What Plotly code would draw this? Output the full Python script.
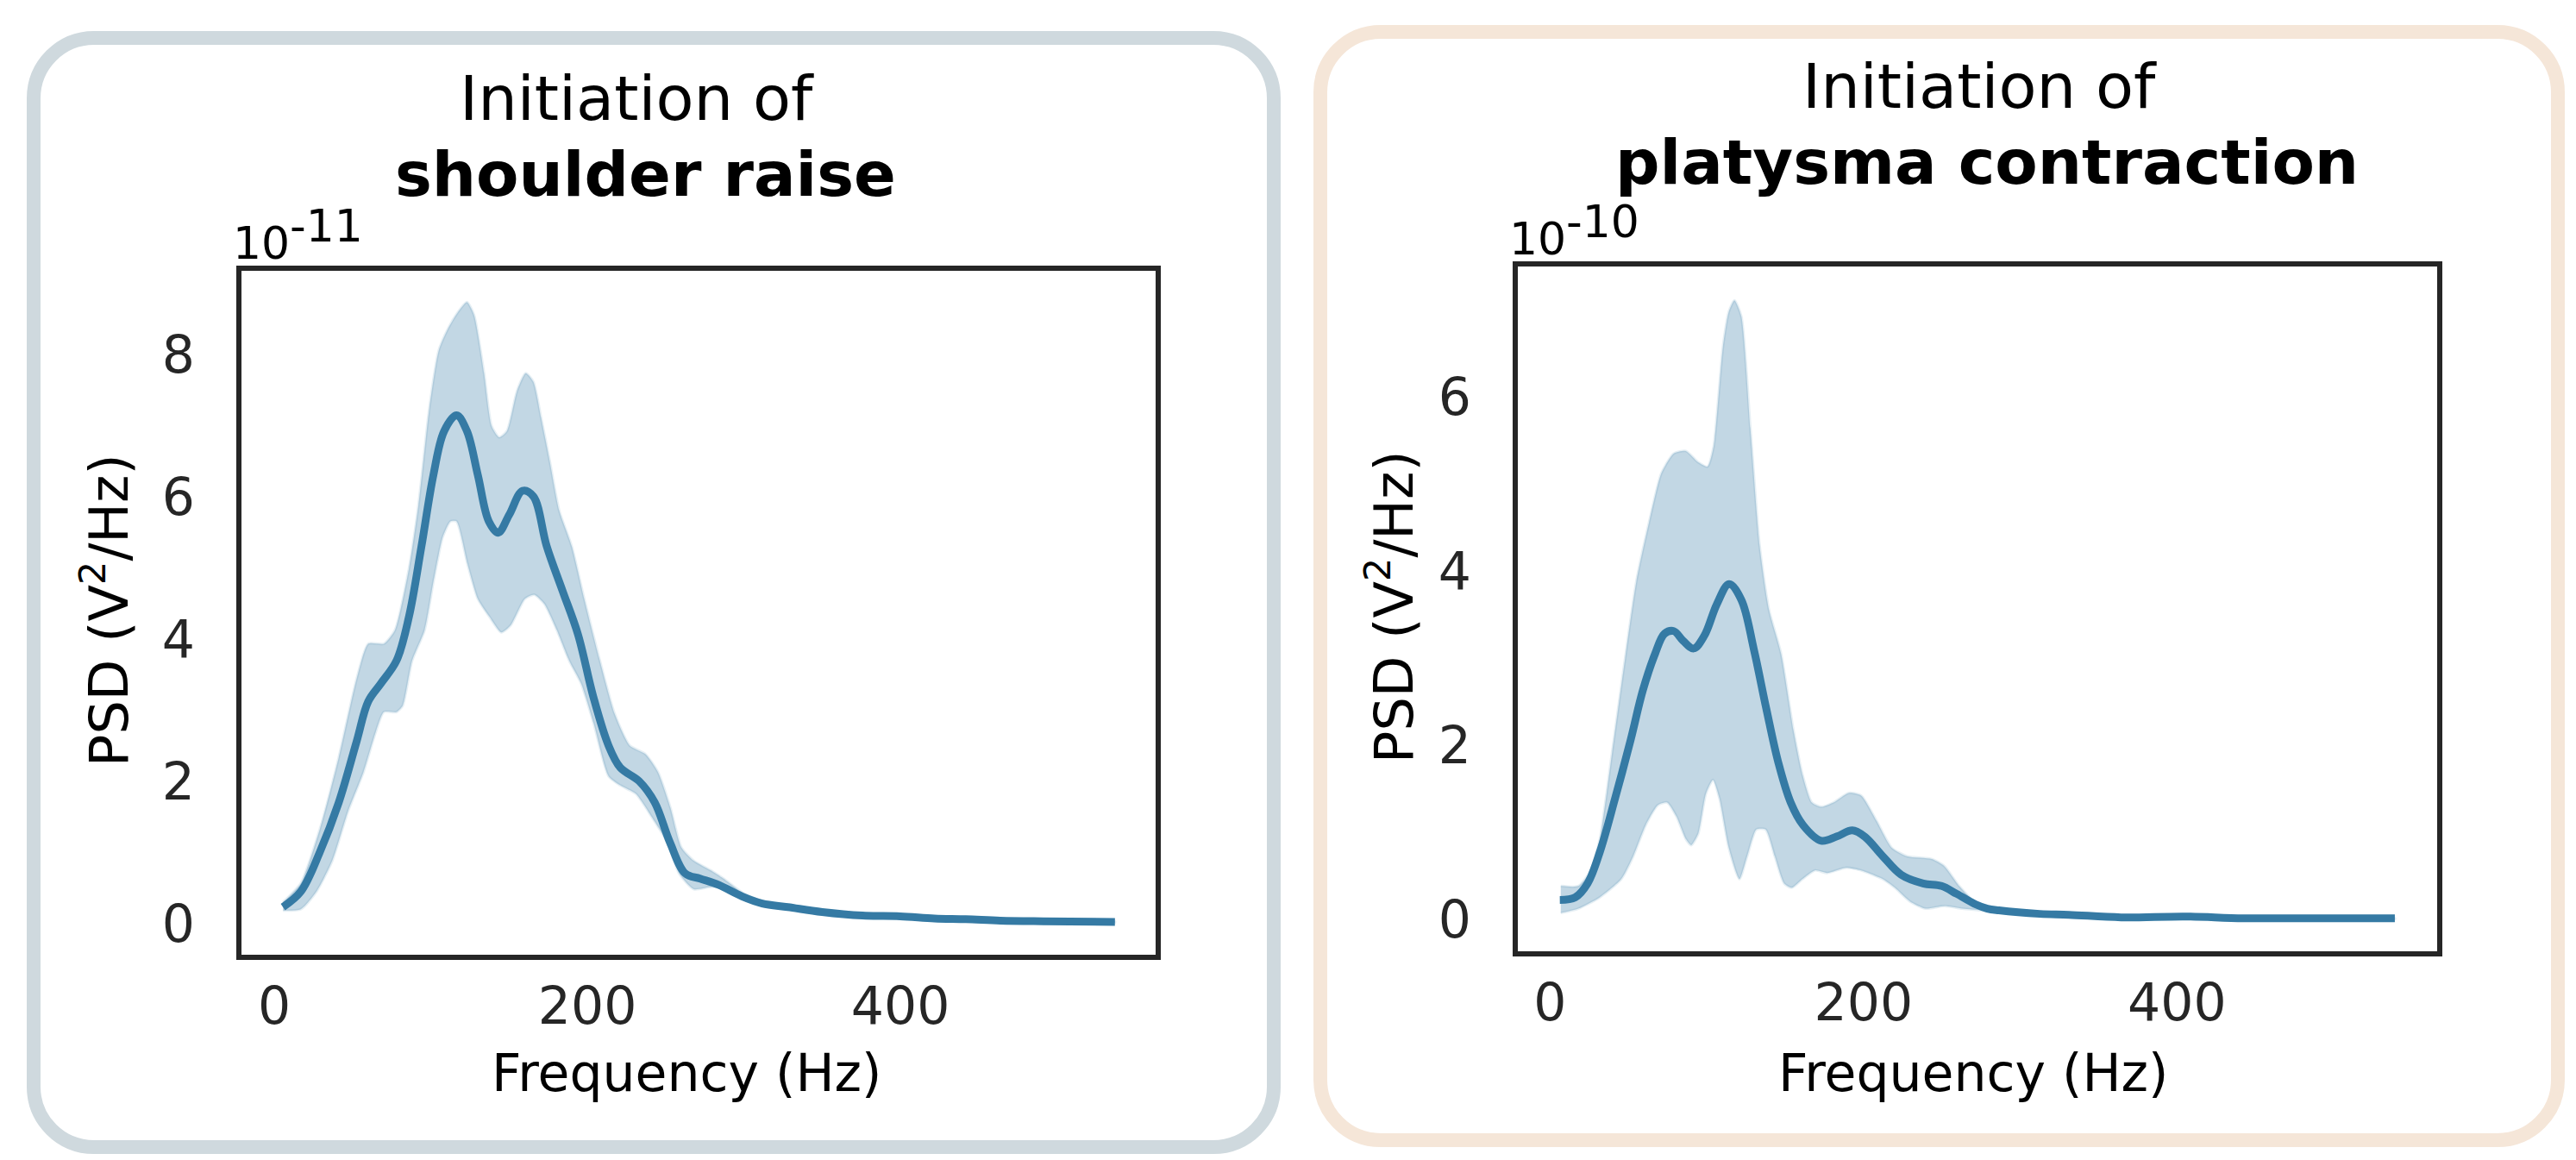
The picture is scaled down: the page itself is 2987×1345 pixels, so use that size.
import plotly.graph_objects as go

W, H = 2987, 1345

# ---- data (left panel in units of 1e-11, right panel in units of 1e-10) ----
# shoulder raise
sr_mean_f = [5.5, 17, 29, 41, 52.6, 60, 68, 78, 86, 94, 101.6, 108.5, 116.4, 123, 130, 137, 143, 150,
             158.6, 165.5, 174, 184, 194, 203.7, 213.5, 221, 233, 243, 252.7, 262.6, 272, 284, 298.8,
             311.7, 328, 350, 375.7, 399.7, 421.7, 441.7, 463.7, 491, 537]
sr_mean = [0.23, 0.45, 1.0, 1.69, 2.56, 3.12, 3.37, 3.69, 4.31, 5.3, 6.3, 6.92, 7.14, 6.92, 6.3, 5.65, 5.49,
           5.74, 6.08, 6.0, 5.3, 4.68, 4.06, 3.19, 2.5, 2.19, 2.0, 1.7, 1.14, 0.7, 0.63, 0.54, 0.38, 0.28,
           0.23, 0.16, 0.11, 0.1, 0.07, 0.06, 0.04, 0.03, 0.02]
sr_upper_f = [5.5, 17, 29, 41, 52.6, 60, 70, 77, 86, 92, 99, 105, 111, 117, 123, 127.6, 134, 138.8, 143.7,
              148.6, 155, 160.6, 165.5, 170.4, 176, 182, 190, 198, 208, 217.5, 227, 237, 245, 253, 260,
              268, 280, 287, 300, 312, 330, 350, 376, 400, 422, 442, 464, 491, 537]
sr_upper = [0.3, 0.57, 1.32, 2.32, 3.44, 3.93, 3.93, 4.12, 4.99, 5.87, 7.24, 8.05, 8.36, 8.58, 8.73, 8.55,
            7.73, 6.99, 6.83, 6.92, 7.48, 7.73, 7.61, 7.11, 6.49, 5.8, 5.3, 4.56, 3.69, 2.94, 2.5, 2.38,
            2.13, 1.63, 1.07, 0.88, 0.73, 0.63, 0.42, 0.31, 0.25, 0.17, 0.12, 0.11, 0.08, 0.07, 0.05,
            0.04, 0.03]
sr_lower_f = [5.5, 17, 27, 37, 47, 57, 64.8, 70, 78, 82, 88, 96, 101.7, 107.6, 112.5, 116.4, 123.4, 130,
              137.4, 145, 151, 160, 166, 172.5, 180.5, 188.4, 196, 204, 213.5, 221, 231, 241, 251, 258.6,
              268, 278, 284.5, 298, 312, 330, 350, 376, 400, 422, 442, 464, 491, 537]
sr_lower = [0.18, 0.2, 0.45, 0.88, 1.57, 2.13, 2.69, 2.97, 2.97, 3.06, 3.69, 4.12, 4.81, 5.43, 5.65, 5.65,
            5.05, 4.56, 4.31, 4.09, 4.19, 4.56, 4.62, 4.49, 4.12, 3.69, 3.37, 2.81, 2.07, 1.94, 1.82, 1.5,
            1.14, 0.7, 0.48, 0.51, 0.51, 0.35, 0.25, 0.21, 0.15, 0.1, 0.09, 0.06, 0.05, 0.03, 0.02, 0.01]

# platysma contraction
pc_mean_f = [6.2, 16, 23.9, 31.7, 41.5, 51.4, 59.2, 67, 73, 78.9, 84.8, 91.6, 98.5, 106.4, 114.2, 122, 130,
             137.8, 145.6, 153.5, 161.4, 173, 183, 192.8, 200.6, 212.4, 224, 238, 249.8, 259.4, 271.4, 279,
             286.3, 312.5, 331, 364.4, 405, 442.5, 498, 539]
pc_mean = [0.22, 0.25, 0.41, 0.77, 1.39, 2.06, 2.63, 3.05, 3.28, 3.31, 3.2, 3.11, 3.26, 3.62, 3.85, 3.67,
           3.1, 2.43, 1.8, 1.34, 1.08, 0.9, 0.95, 1.02, 0.95, 0.72, 0.51, 0.41, 0.38, 0.29, 0.17, 0.12, 0.1,
           0.06, 0.05, 0.02, 0.03, 0.01, 0.01, 0.01]
pc_upper_f = [6.8, 18, 26, 31.7, 39.5, 47.4, 55, 63, 70.9, 78.8, 86.6, 94.5, 100.4, 104.3, 110.2, 114,
              117.6, 122, 127.8, 133.7, 139.6, 147.4, 155.3, 161.2, 167, 173, 180.8, 190.6, 198.5, 208.3,
              218, 228, 243.6, 251.5, 261, 271, 279, 286, 312, 331, 364, 405, 442, 498, 539]
pc_upper = [0.38, 0.38, 0.56, 0.92, 1.91, 2.94, 3.88, 4.55, 5.12, 5.35, 5.38, 5.25, 5.2, 5.43, 6.57, 6.98,
            7.11, 6.93, 5.64, 4.29, 3.56, 3.05, 2.17, 1.65, 1.34, 1.29, 1.34, 1.45, 1.42, 1.13, 0.82, 0.72,
            0.69, 0.61, 0.38, 0.2, 0.15, 0.11, 0.07, 0.06, 0.03, 0.04, 0.02, 0.01, 0.01]
pc_lower_f = [6.8, 18, 31.7, 45.4, 53, 61, 68.8, 74.7, 80.6, 86.6, 90, 94.5, 99.4, 103.9, 108, 114, 120.8,
              125.7, 131.6, 137.5, 143.4, 149.3, 154.2, 161, 169, 176.8, 188.6, 198.4, 212.2, 220, 229.8,
              239.6, 251.5, 263, 275, 286, 312, 331, 364, 405, 442, 498, 539]
pc_lower = [0.07, 0.12, 0.25, 0.46, 0.72, 1.08, 1.31, 1.34, 1.18, 0.92, 0.85, 0.98, 1.44, 1.6, 1.39, 0.82,
            0.46, 0.72, 1.03, 1.03, 0.72, 0.41, 0.36, 0.46, 0.56, 0.53, 0.59, 0.56, 0.46, 0.36, 0.2, 0.12,
            0.15, 0.12, 0.1, 0.08, 0.05, 0.04, 0.01, 0.02, 0.0, 0.0, 0.0]

x_ticks = [0, 200, 400]
left_yticks = [0, 2, 4, 6, 8]
right_yticks = [0, 2, 4, 6]

LINE = "rgb(53,122,164)"
BAND = "rgba(53,122,164,0.30)"
FONT = "DejaVu Sans"


def px(x):
    return x / W


def py(y):
    return 1 - y / H


def rounded_rect(x0, y0, x1, y1, r):
    k = 0.5523 * r
    pts = [
        ("M", [(x0 + r, y0)]),
        ("L", [(x1 - r, y0)]),
        ("C", [(x1 - r + k, y0), (x1, y0 + r - k), (x1, y0 + r)]),
        ("L", [(x1, y1 - r)]),
        ("C", [(x1, y1 - r + k), (x1 - r + k, y1), (x1 - r, y1)]),
        ("L", [(x0 + r, y1)]),
        ("C", [(x0 + r - k, y1), (x0, y1 - r + k), (x0, y1 - r)]),
        ("L", [(x0, y0 + r)]),
        ("C", [(x0, y0 + r - k), (x0 + r - k, y0), (x0 + r, y0)]),
    ]
    s = ""
    for cmd, ps in pts:
        s += cmd + " " + " ".join(f"{px(a):.5f},{py(b):.5f}" for a, b in ps) + " "
    return s + "Z"


fig = go.Figure()

panels = [
    (sr_mean_f, sr_mean, sr_upper_f, sr_upper, sr_lower_f, sr_lower, "x", "y"),
    (pc_mean_f, pc_mean, pc_upper_f, pc_upper, pc_lower_f, pc_lower, "x2", "y2"),
]
for mf, m, uf, u, lf, lo, xa, ya in panels:
    fig.add_trace(go.Scatter(
        x=uf + lf[::-1], y=u + lo[::-1], fill="toself", fillcolor=BAND,
        line=dict(color="rgba(53,122,164,0.12)", width=3, shape="spline", smoothing=0.6),
        mode="lines", xaxis=xa, yaxis=ya, hoverinfo="skip", showlegend=False))
    fig.add_trace(go.Scatter(
        x=mf, y=m, mode="lines", line=dict(color=LINE, width=9, shape="spline", smoothing=1.0),
        xaxis=xa, yaxis=ya, showlegend=False))

axis_common = dict(showgrid=False, zeroline=False, showline=True, mirror=True, linecolor="#262626",
                   linewidth=6, ticks="", tickfont=dict(family=FONT, size=60, color="#262626"))

fig.update_layout(
    width=W, height=H, margin=dict(l=0, r=0, t=0, b=0),
    paper_bgcolor="white", plot_bgcolor="white",
    font=dict(family=FONT, color="#111111"),
    xaxis=dict(domain=[px(272), px(1332)], range=[-21, 563], tickvals=x_ticks,
               ticklabelstandoff=2, anchor="y", **axis_common),
    yaxis=dict(domain=[py(1099), py(306)], range=[-0.44, 9.17], tickvals=left_yticks,
               ticklabelstandoff=36, anchor="x", **axis_common),
    xaxis2=dict(domain=[px(1752), px(2818)], range=[-20.6, 566], tickvals=x_ticks,
                ticklabelstandoff=2, anchor="y2", **axis_common),
    yaxis2=dict(domain=[py(1095), py(301)], range=[-0.37, 7.5], tickvals=right_yticks,
                ticklabelstandoff=36, anchor="x2", **axis_common),
)

# panel frames
fig.add_shape(type="path", path=rounded_rect(31, 36, 1469, 1322, 70), xref="paper", yref="paper",
              line=dict(color="#cfd9de", width=16), layer="below")
fig.add_shape(type="path", path=rounded_rect(1523, 29, 2958, 1314, 70), xref="paper", yref="paper",
              line=dict(color="#f5e6d8", width=16), layer="below")

ann = []


def note(x, y, text, size, **kw):
    d = dict(x=px(x), y=py(y), xref="paper", yref="paper", text=text, showarrow=False,
             font=dict(family=FONT, size=size, color="black"), xanchor="center", yanchor="middle")
    d.update(kw)
    ann.append(d)


# titles
for xc1, yc1, xc2, yc2, name in [(730, 106, 740, 194, "shoulder raise"),
                                 (2287, 92, 2296, 180, "platysma contraction")]:
    note(xc1, yc1, "Initiation of", 72)
    note(xc2, yc2, f"<b>{name}</b>", 72)

# axis titles
for xc in [788, 2280]:
    note(xc, 1236, "Frequency (Hz)", 60)
for xc, yc in [(114, 700), (1604, 696)]:
    note(xc, yc, "PSD (V<sup>2</sup>/Hz)", 62, textangle=-90)

# offset (exponent) labels: "10" with a raised exponent of the same size
for xl, yb, exp in [(260, 306, "-11"), (1740, 301, "-10")]:
    note(xl, yb, "10", 52, xanchor="left", yanchor="bottom")
    note(xl + 66, yb - 20, exp, 52, xanchor="left", yanchor="bottom")

fig.update_layout(annotations=ann)

fig.write_html("out.html")
